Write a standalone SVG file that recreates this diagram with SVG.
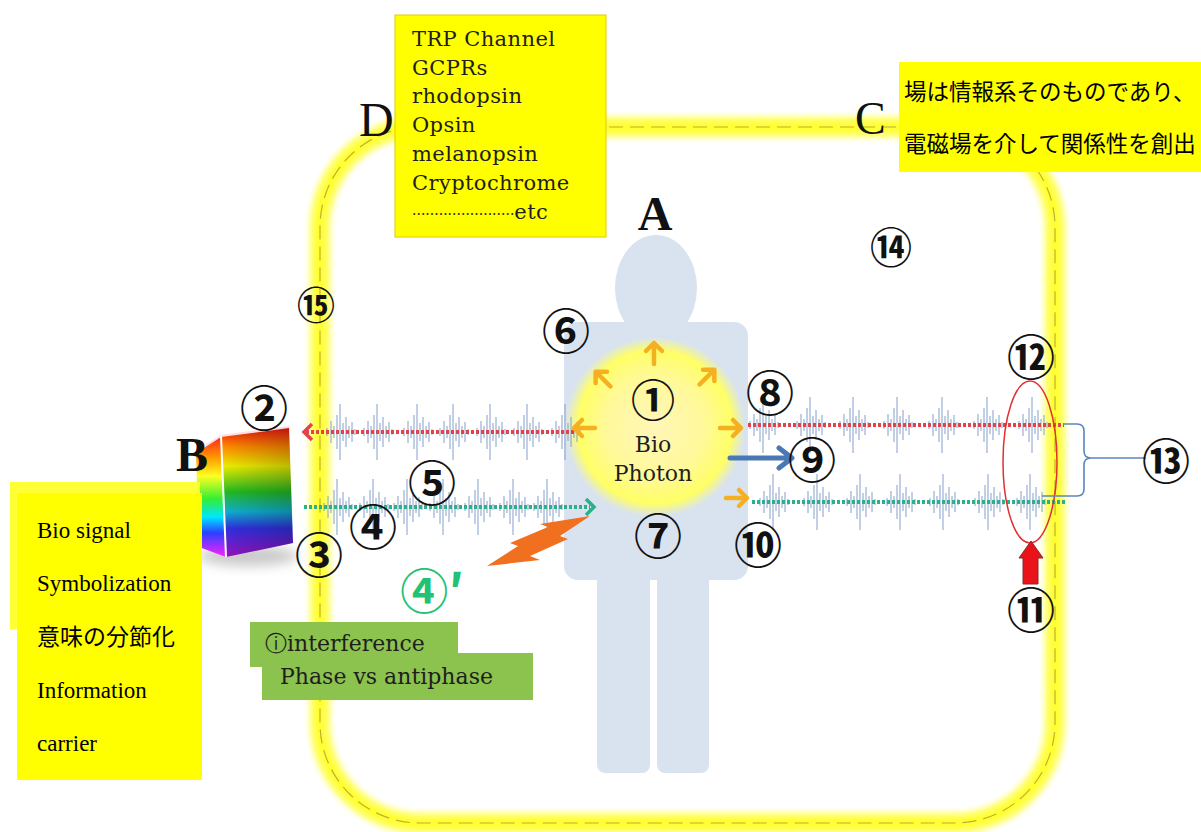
<svg xmlns="http://www.w3.org/2000/svg" xmlns:xlink="http://www.w3.org/1999/xlink" width="1201" height="832" viewBox="0 0 1201 832">
  <style>
    .num { font-family: "Noto Sans CJK JP", "DejaVu Sans", sans-serif; font-weight: 700; fill: #111; text-anchor: middle; dominant-baseline: central; }
    .letter { font-family: "Liberation Serif", serif; fill: #111; }
    .slab { font-family: "DejaVu Serif", serif; fill: #1e1e1e; }
    .boxtxt { font-family: "Liberation Serif", "Noto Sans CJK JP", serif; fill: #000; font-size: 23px; }
    .jp { font-family: "Noto Sans CJK JP", sans-serif; fill: #000; font-size: 22.5px; }
    .pk { stroke: #8aa4cc; stroke-width: 1.3; fill: none; opacity: 0.8; }
    .oarrow { stroke: #f5b021; stroke-width: 4.5; stroke-linecap: round; stroke-linejoin: round; fill: none; }
  </style>
  <defs>
    <filter id="blur3" x="-10%" y="-10%" width="120%" height="120%">
      <feGaussianBlur stdDeviation="3"/>
    </filter>
    <filter id="blur6" x="-50%" y="-50%" width="200%" height="200%">
      <feGaussianBlur stdDeviation="6"/>
    </filter>
    <radialGradient id="sun" cx="0.5" cy="0.5" r="0.5">
      <stop offset="0" stop-color="#fff6b8"/>
      <stop offset="0.55" stop-color="#fff99a"/>
      <stop offset="0.85" stop-color="#ffff66"/>
      <stop offset="1" stop-color="#ffff66" stop-opacity="0"/>
    </radialGradient>
    <linearGradient id="rbFront" x1="0" y1="0" x2="0" y2="1">
      <stop offset="0" stop-color="#ee1111"/>
      <stop offset="0.15" stop-color="#ff8800"/>
      <stop offset="0.3" stop-color="#eeee00"/>
      <stop offset="0.5" stop-color="#22bb22"/>
      <stop offset="0.65" stop-color="#10b0d0"/>
      <stop offset="0.78" stop-color="#3030e0"/>
      <stop offset="1" stop-color="#9a10c0"/>
    </linearGradient>
    <linearGradient id="rbSide" x1="0" y1="0" x2="0" y2="1">
      <stop offset="0" stop-color="#ff2222"/>
      <stop offset="0.18" stop-color="#ff9a00"/>
      <stop offset="0.33" stop-color="#ffff20"/>
      <stop offset="0.52" stop-color="#33ee33"/>
      <stop offset="0.67" stop-color="#00e6ff"/>
      <stop offset="0.8" stop-color="#2a40ff"/>
      <stop offset="1" stop-color="#ff20ff"/>
    </linearGradient>
    <linearGradient id="shade" x1="0" y1="0" x2="1" y2="0">
      <stop offset="0" stop-color="#000" stop-opacity="0"/>
      <stop offset="1" stop-color="#000" stop-opacity="0.22"/>
    </linearGradient>
    <!-- one burst of the signal waveform, centred on its axis -->
    <path id="pk" class="pk" d="M-13,-4V4M-9,-11V11M-6,-6V6M-3,-17V17M0,-28V28M3,-9V9M6,-15V15M9,-6V6M12,-10V10M15,-3V3"/>
    <path id="oa" class="oarrow" d="M-12,0H8M1,-8L9,0L1,8"/>
  </defs>

  <rect width="1201" height="832" fill="#ffffff"/>

  <!-- field boundary: glowing rounded frame -->
  <g id="field">
    <rect x="320" y="127" width="735" height="696" rx="100" fill="none" stroke="#ffff00" stroke-width="20" opacity="0.7" filter="url(#blur3)"/>
    <rect x="320" y="127" width="735" height="696" rx="100" fill="none" stroke="#ffff33" stroke-width="7"/>
    <rect x="320" y="127" width="735" height="696" rx="100" fill="none" stroke="#bfae3a" stroke-width="1.2" stroke-dasharray="14 7"/>
  </g>

  <!-- human figure -->
  <g id="person" fill="#d9e3f0">
    <ellipse cx="656" cy="288" rx="41" ry="53"/>
    <rect x="564" y="322" width="184" height="258" rx="14"/>
    <rect x="597" y="560" width="53" height="213" rx="8"/>
    <rect x="657" y="560" width="52" height="213" rx="8"/>
  </g>

  <!-- biophoton glow -->
  <g id="biophoton">
    <circle cx="655" cy="427" r="90" fill="url(#sun)"/>
    <text class="slab" x="653" y="452" font-size="22" text-anchor="middle" fill="#3a2a10">Bio</text>
    <text class="slab" x="653" y="481" font-size="22" text-anchor="middle" fill="#3a2a10">Photon</text>
  </g>

  <!-- prism -->
  <g id="prism">
    <ellipse cx="248" cy="556" rx="50" ry="10" fill="#888" opacity="0.45" filter="url(#blur6)"/>
    <polygon points="196,452 221,436 226,557 199,547" fill="url(#rbSide)"/>
    <polygon points="221,436 289,427 293,543 226,557" fill="url(#rbFront)"/>
    <polygon points="221,436 289,427 293,543 226,557" fill="url(#shade)"/>
    <polyline points="196,452 221,436 289,427" fill="none" stroke="#ffdede" stroke-width="2"/>
    <line x1="221" y1="436" x2="226" y2="557" stroke="#ffffff" stroke-width="2"/>
  </g>

  <!-- waveforms and signal lines -->
  <g id="connectors">
    <g id="wave-left-top">
      <use xlink:href="#pk" x="340" y="432"/>
      <use xlink:href="#pk" x="377" y="432"/>
      <use xlink:href="#pk" x="417" y="432"/>
      <use xlink:href="#pk" x="453" y="432"/>
      <use xlink:href="#pk" x="490" y="432"/>
      <use xlink:href="#pk" x="527" y="432"/>
      <use xlink:href="#pk" x="565" y="432"/>
    </g>
    <g id="wave-left-bottom">
      <use xlink:href="#pk" x="337" y="507"/>
      <use xlink:href="#pk" x="373" y="507"/>
      <use xlink:href="#pk" x="407" y="507"/>
      <use xlink:href="#pk" x="443" y="507"/>
      <use xlink:href="#pk" x="478" y="507"/>
      <use xlink:href="#pk" x="513" y="507"/>
      <use xlink:href="#pk" x="547" y="507"/>
    </g>
    <g id="wave-right-top">
      <use xlink:href="#pk" x="763" y="425"/>
      <use xlink:href="#pk" x="810" y="425"/>
      <use xlink:href="#pk" x="853" y="425"/>
      <use xlink:href="#pk" x="897" y="425"/>
      <use xlink:href="#pk" x="942" y="425"/>
      <use xlink:href="#pk" x="987" y="425"/>
      <use xlink:href="#pk" x="1032" y="425"/>
    </g>
    <g id="wave-right-bottom">
      <use xlink:href="#pk" x="773" y="502"/>
      <use xlink:href="#pk" x="817" y="502"/>
      <use xlink:href="#pk" x="860" y="502"/>
      <use xlink:href="#pk" x="900" y="502"/>
      <use xlink:href="#pk" x="943" y="502"/>
      <use xlink:href="#pk" x="988" y="502"/>
      <use xlink:href="#pk" x="1030" y="502"/>
    </g>

    <!-- dotted signal lines -->
    <line x1="306" y1="432" x2="574" y2="432" stroke="#e2434b" stroke-width="4" stroke-dasharray="3 2"/>
    <polyline points="312,424 304,432 312,440" fill="none" stroke="#e2434b" stroke-width="3.5"/>
    <line x1="304" y1="507" x2="590" y2="507" stroke="#2bb08a" stroke-width="4" stroke-dasharray="3 2"/>
    <polyline points="586,499 594,507 586,515" fill="none" stroke="#2bb08a" stroke-width="3.5"/>
    <line x1="748" y1="425" x2="1064" y2="425" stroke="#e2434b" stroke-width="4" stroke-dasharray="3 2"/>
    <line x1="752" y1="502" x2="1066" y2="502" stroke="#2bb08a" stroke-width="4" stroke-dasharray="3 2"/>

    <!-- radiating arrows of the biophoton -->
    <use xlink:href="#oa" transform="translate(654,352) rotate(-90)"/>
    <use xlink:href="#oa" transform="translate(602,378) rotate(-135)"/>
    <use xlink:href="#oa" transform="translate(708,376) rotate(-45)"/>
    <use xlink:href="#oa" transform="translate(583,428) rotate(180)"/>
    <use xlink:href="#oa" transform="translate(732,428)"/>
    <use xlink:href="#oa" transform="translate(738,498)"/>

    <!-- arrow toward 9 -->
    <path d="M730,458H790M779,448L792,458L779,468" fill="none" stroke="#4a78b5" stroke-width="5" stroke-linecap="round" stroke-linejoin="round"/>

    <!-- lightning -->
    <polygon points="590,516 560,536 568,539 530,556 540,560 487,566 518,546 510,543 548,527 540,524" fill="#f07020"/>

    <!-- interference zone -->
    <ellipse cx="1030" cy="462" rx="27" ry="81" fill="none" stroke="#e03030" stroke-width="1.5"/>
    <path d="M1023,584V558H1019L1031,541L1043,558H1038V584Z" fill="#e8141a" stroke="#8a2a2a" stroke-width="1"/>

    <!-- bracket to 13 -->
    <path d="M1063,424H1077Q1084,424 1084,431V451Q1084,458 1091,458H1146M1091,458Q1084,458 1084,465V489Q1084,496 1077,496H1042" fill="none" stroke="#5b86c0" stroke-width="1.6"/>
  </g>

  <!-- receptor list -->
  <g id="node-D">
    <rect x="395" y="15" width="211" height="222" fill="#ffff00" stroke="#e0cc00" stroke-width="1"/>
    <g class="slab" font-size="21" letter-spacing="0.4">
      <text x="412" y="46">TRP Channel</text>
      <text x="412" y="75">GCPRs</text>
      <text x="412" y="103">rhodopsin</text>
      <text x="412" y="132">Opsin</text>
      <text x="412" y="161">melanopsin</text>
      <text x="412" y="190">Cryptochrome</text>
      <text x="412" y="219"><tspan font-size="14" letter-spacing="0">·······················</tspan>etc</text>
    </g>
  </g>

  <!-- field statement -->
  <g id="node-C">
    <rect x="899" y="62" width="302" height="110" fill="#ffff00"/>
    <text class="jp" x="904" y="100">場は情報系そのものであり、</text>
    <text class="jp" x="904" y="152">電磁場を介して関係性を創出</text>
  </g>

  <!-- signal meaning -->
  <g id="node-B-info">
    <rect x="10" y="482" width="190" height="147" fill="#ffff22" opacity="0.9"/>
    <rect x="17" y="493" width="185" height="287" fill="#ffff00"/>
    <text class="boxtxt" x="37" y="538">Bio signal</text>
    <text class="boxtxt" x="37" y="591">Symbolization</text>
    <text class="boxtxt" x="37" y="645">意味の分節化</text>
    <text class="boxtxt" x="37" y="698">Information</text>
    <text class="boxtxt" x="37" y="751">carrier</text>
  </g>

  <!-- interference note -->
  <g id="node-interference">
    <rect x="250" y="622" width="208" height="45" fill="#8cc24e"/>
    <rect x="262" y="653" width="271" height="47" fill="#8cc24e"/>
    <text class="slab" x="265" y="651" font-size="22" fill="#1c2a10">ⓘinterference</text>
    <text class="slab" x="280" y="684" font-size="22" fill="#1c2a10">Phase vs antiphase</text>
  </g>

  <!-- region letters -->
  <g id="letters">
    <text class="letter" x="655" y="230" font-size="48" font-weight="700" text-anchor="middle">A</text>
    <text class="letter" x="176" y="471" font-size="48" font-weight="700">B</text>
    <text class="letter" x="855" y="134" font-size="46">C</text>
    <text class="letter" x="359" y="136" font-size="48">D</text>
  </g>

  <!-- numbered markers -->
  <g id="markers">
    <text class="num" x="653" y="398" font-size="44">①</text>
    <text class="num" x="264" y="405" font-size="48">②</text>
    <text class="num" x="319" y="552" font-size="48">③</text>
    <text class="num" x="373" y="524" font-size="48">④</text>
    <text class="num" x="432" y="480" font-size="48">⑤</text>
    <text class="num" x="566" y="328" font-size="48">⑥</text>
    <text class="num" x="658" y="533" font-size="48">⑦</text>
    <text class="num" x="770" y="390" font-size="48">⑧</text>
    <text class="num" x="812" y="457" font-size="48">⑨</text>
    <text class="num" x="758" y="542" font-size="48">⑩</text>
    <text class="num" x="1031" y="607" font-size="48">⑪</text>
    <text class="num" x="1031" y="354" font-size="48">⑫</text>
    <text class="num" x="1166" y="458" font-size="48">⑬</text>
    <text class="num" x="891" y="244" font-size="42">⑭</text>
    <text class="num" x="316" y="302" font-size="38">⑮</text>
    <text class="num" x="432" y="588" font-size="48" text-anchor="start" style="fill:#22c275">④′</text>
  </g>
</svg>
